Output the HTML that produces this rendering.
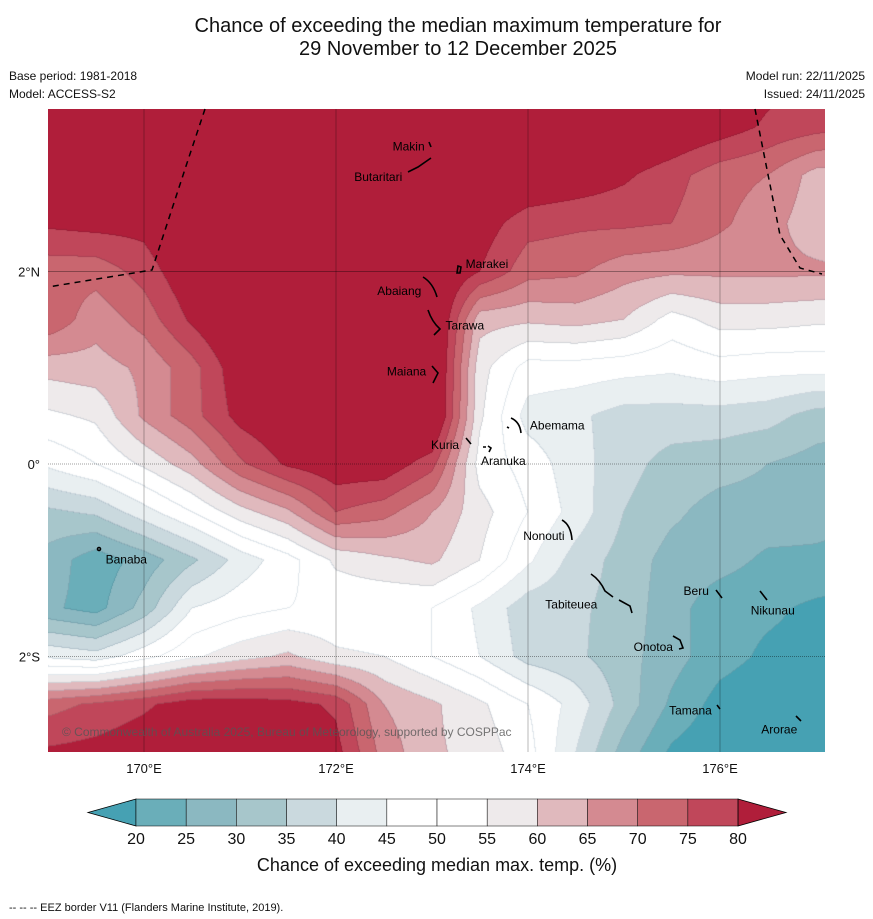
<!DOCTYPE html>
<html><head><meta charset="utf-8">
<style>
html,body{margin:0;padding:0;background:#fff;}
body{width:873px;height:919px;position:relative;overflow:hidden;font-family:"Liberation Sans","DejaVu Sans",sans-serif;}
#map{position:absolute;left:48px;top:109px;}
#ov{position:absolute;left:0;top:0;}
</style></head>
<body>
<canvas id="map" width="777" height="643"></canvas>
<svg id="ov" width="873" height="919" font-family="Liberation Sans, DejaVu Sans, sans-serif">
  <text x="458" y="32" font-size="20" text-anchor="middle" fill="#111">Chance of exceeding the median maximum temperature for</text>
  <text x="458" y="55" font-size="20" text-anchor="middle" fill="#111">29 November to 12 December 2025</text>
  <text x="9" y="80" font-size="12" fill="#111">Base period: 1981-2018</text>
  <text x="9" y="98" font-size="12" fill="#111">Model: ACCESS-S2</text>
  <text x="865" y="80" font-size="12" text-anchor="end" fill="#111">Model run: 22/11/2025</text>
  <text x="865" y="98" font-size="12" text-anchor="end" fill="#111">Issued: 24/11/2025</text>
  <g id="grid"></g>
  <g id="eez" fill="none" stroke="#000" stroke-width="1.5" stroke-dasharray="6,5">
    <polyline points="205,109 188,160 152,270 48,287"/>
    <polyline points="755,109 780,235 800,268 822,274"/>
  </g>
  <g id="islands" fill="none" stroke="#000" stroke-width="1.6">
    <path d="M429,142 L431,147"/>
    <path d="M408,172 L418,167 L431,158"/>
    <path d="M458,266 L461,267 L460,273 L457,273 Z"/>
    <path d="M423,277 Q433,283 437,297"/>
    <path d="M428,310 Q432,322 440,329 L434,335"/>
    <path d="M432,366 L438,373 L433,383"/>
    <path d="M511,418 Q520,422 521,433 M507,427 L509,428"/>
    <path d="M466,438 L471,444"/>
    <path d="M488,446 L491,448 L489,452 M483,447 L486,447"/>
    <path d="M562,520 Q571,525 572,540"/>
    <circle cx="99" cy="549" r="1.5"/>
    <path d="M591,574 Q600,580 605,591 L613,597 M619,600 L630,606 L632,613"/>
    <path d="M716,590 L722,598"/>
    <path d="M760,591 L767,600"/>
    <path d="M673,636 L680,640 L683,648 L679,649"/>
    <path d="M717,705 L720,709"/>
    <path d="M796,716 L801,721"/>
  </g>
  <g id="labels" font-size="12" fill="#000"></g>
  <text x="62" y="736" font-size="12" fill="#555" fill-opacity="0.8">© Commonwealth of Australia 2025, Bureau of Meteorology, supported by COSPPac</text>
  <g id="axes" font-size="13" fill="#111"></g>
  <g id="cbar"></g>
  <text x="437" y="871" font-size="18" text-anchor="middle" fill="#111">Chance of exceeding median max. temp. (%)</text>
  <text x="9" y="911" font-size="11" fill="#111">--  --  -- EEZ border V11 (Flanders Marine Institute, 2019).</text>
</svg>
<script>
// ---- data ----
const lons = [169,169.5,170,170.5,171,171.5,172,172.5,173,173.5,174,174.5,175,175.5,176,176.5,177,177.5];
const lats = [4,3.5,3,2.5,2,1.5,1,0.5,0,-0.5,-1,-1.5,-2,-2.5,-3];
const row_4p0  = [88,88,88,88,88,88,88,88,88,88,88,88,88,88,86,82,79,77];
const row_3p5  = [88,88,88,88,88,88,88,88,88,88,88,88,88,86,83,79,77,75];
const row_3p0  = [88,88,88,88,88,88,88,88,88,88,86,84,81,77,72,70,63,62];
const row_2p5  = [81,82,82,88,88,88,88,88,88,83,77,76,76,75,71,67,62,60];
const row_2p0  = [72,72,77,85,88,88,88,88,88,80,72,71,67,66,66,66,66,65];
const row_1p5  = [74,67,72,81,88,88,88,88,90,62,61,62,60,53,57,57,56,56];
const row_1p0  = [62,63,66,73,84,88,88,88,90,57,48,48,47,46,48,47,47,47];
const row_0p5  = [54,56,66,73,82,86,88,88,90,56,43,41,38,38,38,37,33,32];
const row_0p0  = [46,50,56,63,74,81,84,84,77,53,48,42,37,33,32,30,28,27];
const row_m0p5 = [34,36,43,50,58,64,75,72,65,57,50,43,35,31,28,28,27,26];
const row_m1p0 = [28,22,27,34,42,48,56,59,61,55,46,38,33,28,27,24,24,23];
const row_m1p5 = [26,23,32,45,48,50,51,50,50,44,37,36,33,27,22,21,19,18];
const row_m2p0 = [44,42,48,54,58,61,56,55,50,45,38,36,32,27,22,19,18,17];
const row_m2p5 = [73,76,79,83,83,82,79,65,61,56,50,43,33,24,18,16,16,16];
const row_m3p0 = [81,82,84,85,85,85,82,68,61,58,52,40,28,19,16,15,15,15];
const levels = [20,25,30,35,40,45,50,55,60,65,70,75,80];
const tickLabels = ["20","25","30","35","40","45","50","55","60","65","70","75","80"];
const lonTicks = [170,172,174,176];
const latTicks = [2,0,-2];
const islandNames = ["Makin","Butaritari","Marakei","Abaiang","Tarawa","Maiana","Abemama","Kuria","Aranuka","Nonouti","Banaba","Tabiteuea","Beru","Nikunau","Onotoa","Tamana","Arorae"];
const islandLon = [172.59,172.19,173.35,172.43,173.14,172.53,174.02,172.99,173.51,173.95,169.6,174.18,175.62,176.32,175.10,175.47,176.43];
const islandLat = [3.30,2.98,2.08,1.80,1.44,0.96,0.40,0.20,0.03,-0.75,-0.99,-1.46,-1.32,-1.52,-1.90,-2.56,-2.76];

const grid = [row_4p0,row_3p5,row_3p0,row_2p5,row_2p0,row_1p5,row_1p0,row_0p5,row_0p0,row_m0p5,row_m1p0,row_m1p5,row_m2p0,row_m2p5,row_m3p0];
const colors = ["#46a1b3","#6aaeb9","#8bb8c1","#a7c6cb","#cad9de","#e9eff1","#ffffff","#ffffff","#eeeaeb","#e0b9bd","#d48a91","#c9666f","#c0475a","#b01e3a"];
function xOf(lon){return 144+(lon-170)*96;}
function yOf(lat){return 464-lat*96.25;}
function lonOf(x){return 170+(x-144)/96;}
function latOf(y){return (464-y)/96.25;}
function valueAt(lon,lat){
  let fi=(lon-lons[0])/(lons[1]-lons[0]); let fj=(lats[0]-lat)/(lats[0]-lats[1]);
  fi=Math.max(0,Math.min(lons.length-1.0001,fi)); fj=Math.max(0,Math.min(lats.length-1.0001,fj));
  const i=Math.floor(fi), j=Math.floor(fj), a=fi-i, b=fj-j;
  return grid[j][i]*(1-a)*(1-b)+grid[j][i+1]*a*(1-b)+grid[j+1][i]*(1-a)*b+grid[j+1][i+1]*a*b;
}
function levelIdx(v){let k=0;while(k<levels.length&&v>=levels[k])k++;return k;}
function hex(c){return [parseInt(c.substr(1,2),16),parseInt(c.substr(3,2),16),parseInt(c.substr(5,2),16)];}
const rgb=colors.map(hex);
(function(){
  const cv=document.getElementById('map'),ctx=cv.getContext('2d');
  const W=cv.width,H=cv.height,img=ctx.createImageData(W,H);
  const idx=new Int8Array(W*H);
  for(let py=0;py<H;py++){const lat=latOf(109+py+0.5);
    for(let px=0;px<W;px++){idx[py*W+px]=levelIdx(valueAt(lonOf(48+px+0.5),lat));}}
  for(let py=0;py<H;py++)for(let px=0;px<W;px++){
    const k=idx[py*W+px];const c=rgb[k];let edge=false;
    if(px+1<W&&idx[py*W+px+1]!==k)edge=true;
    if(py+1<H&&idx[(py+1)*W+px]!==k)edge=true;
    const o=(py*W+px)*4;
    if(edge){img.data[o]=c[0]*0.88;img.data[o+1]=c[1]*0.9;img.data[o+2]=c[2]*0.92;}
    else{img.data[o]=c[0];img.data[o+1]=c[1];img.data[o+2]=c[2];}
    img.data[o+3]=255;}
  ctx.putImageData(img,0,0);
})();
const NS="http://www.w3.org/2000/svg";
function mk(tag,attrs,parent){const e=document.createElementNS(NS,tag);for(const k in attrs)e.setAttribute(k,attrs[k]);parent.appendChild(e);return e;}
const g=document.getElementById('grid');
lonTicks.forEach(function(l){
  const ln=mk('line',{x1:xOf(l),x2:xOf(l),y1:109,y2:752,stroke:'#000','stroke-opacity':0.35,'stroke-width':0.8},g);
  
  
});
latTicks.forEach(function(l){
  const ln=mk('line',{x1:48,x2:825,y1:yOf(l),y2:yOf(l),stroke:'#000','stroke-opacity':l===2?0.45:0.5,'stroke-width':0.8,'stroke-dasharray':l===2?'none':'1,1'},g);
  
  
});
const ax=document.getElementById('axes');
lonTicks.forEach(function(l){
  const t=mk('text',{x:xOf(l),y:773,'text-anchor':'middle'},ax);t.textContent=l+'°E';
  
  
});
latTicks.forEach(function(l){
  const t=mk('text',{x:40,y:yOf(l)+5,'text-anchor':'end'},ax);t.textContent=l===0?'0°':Math.abs(l)+(l>0?'°N':'°S');
  
  
});
const lb=document.getElementById('labels');
islandNames.forEach(function(n,i){
  const t=mk('text',{x:xOf(islandLon[i]),y:yOf(islandLat[i])+4},lb);t.textContent=n;
  
  
});
const cb=document.getElementById('cbar');
const cbx0=136,cbw=50.17,cby=799,cbh=27;
const lt=mk('polygon',{points:(cbx0)+','+cby+' '+(cbx0)+','+(cby+cbh)+' 88,'+(cby+cbh/2),fill:colors[0],stroke:'#000','stroke-width':0.8},cb);


for(let k=0;k<levels.length-1;k++){
  const r=mk('rect',{x:cbx0+k*cbw,y:cby,width:cbw,height:cbh,fill:colors[k+1],stroke:'#000','stroke-width':0.5},cb);
  
  
}
const xe=cbx0+(levels.length-1)*cbw;
const rt=mk('polygon',{points:xe+','+cby+' '+xe+','+(cby+cbh)+' 786,'+(cby+cbh/2),fill:colors[13],stroke:'#000','stroke-width':0.8},cb);


tickLabels.forEach(function(s,k){
  const t=mk('text',{x:cbx0+k*cbw,y:844,'text-anchor':'middle','font-size':16,fill:'#111'},cb);t.textContent=s;
  
  
});
</script>
</body></html>
